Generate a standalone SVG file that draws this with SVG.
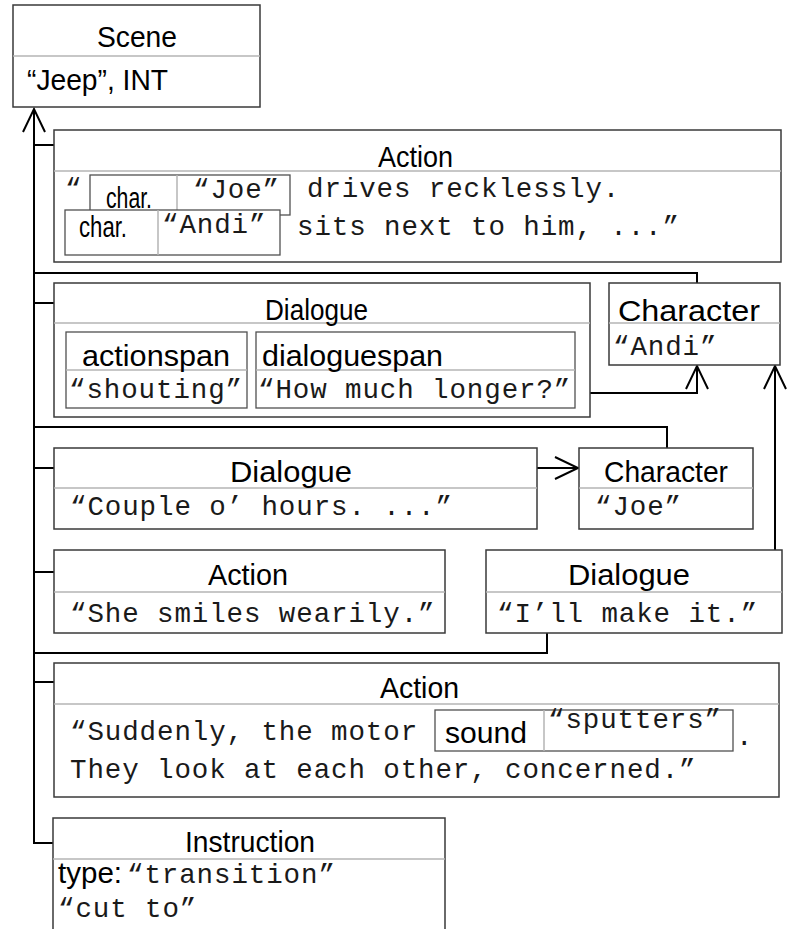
<svg xmlns="http://www.w3.org/2000/svg" width="790" height="929" viewBox="0 0 790 929">
<style>
.box{fill:#fff;stroke:#3a3a3a;stroke-width:1.5}
.dv{stroke:#b4b4b4;stroke-width:1.5;fill:none}
.ib{fill:#fff;stroke:#505050;stroke-width:1.3}
.t{font-family:"Liberation Sans",Arial,sans-serif;font-size:29px;fill:#000}
.m{font-family:"Liberation Mono","Courier New",monospace;font-size:27.5px;letter-spacing:0.9px;fill:#1a1a1a}
.c{fill:none;stroke:#000;stroke-width:2}
</style>
<defs>
<marker id="arr" markerUnits="userSpaceOnUse" markerWidth="30" markerHeight="30" refX="24" refY="12" orient="auto" viewBox="0 0 30 24">
<path d="M1,1 L24,12 L1,23" fill="none" stroke="#000" stroke-width="2"/>
</marker>
</defs>
<rect width="790" height="929" fill="#fff"/>

<g id="connectors">
<path class="c" d="M53,843 H34 V109" marker-end="url(#arr)"/>
<path class="c" d="M34,145 H54"/>
<path class="c" d="M34,273 H697 V283"/>
<path class="c" d="M34,303 H54"/>
<path class="c" d="M34,427 H667 V448"/>
<path class="c" d="M34,468 H54"/>
<path class="c" d="M34,572 H54"/>
<path class="c" d="M34,653 H547 V633"/>
<path class="c" d="M34,682 H54"/>
<path class="c" d="M590,393 H697 V366" marker-end="url(#arr)"/>
<path class="c" d="M775,550 V366" marker-end="url(#arr)"/>
<path class="c" d="M537,468 H578" marker-end="url(#arr)"/>
</g>

<g id="scene">
<rect class="box" x="13" y="5" width="247" height="102"/>
<line class="dv" x1="13" y1="56" x2="260" y2="56"/>
<text class="t" x="97" y="47" textLength="80" lengthAdjust="spacingAndGlyphs">Scene</text>
<text class="t" x="27" y="90" textLength="141" lengthAdjust="spacingAndGlyphs">“Jeep”, INT</text>
</g>

<g id="action1">
<rect class="box" x="54" y="130" width="727" height="132"/>
<line class="dv" x1="54" y1="171" x2="781" y2="171"/>
<text class="t" x="378" y="167" textLength="75" lengthAdjust="spacingAndGlyphs">Action</text>
<text class="m" x="65" y="197">“</text>
<text class="m" x="307" y="197">drives recklessly.</text>
<text class="m" x="297" y="235">sits next to him, ...”</text>
<g id="char-joe-span">
<rect class="ib" x="90" y="175" width="200" height="40"/>
<line class="dv" x1="177" y1="175" x2="177" y2="215"/>
<text class="t" x="106" y="208" textLength="46" lengthAdjust="spacingAndGlyphs">char.</text>
<text class="m" x="193" y="198">“Joe”</text>
</g>
<g id="char-andi-span">
<rect class="ib" x="65" y="210" width="215" height="45"/>
<line class="dv" x1="158" y1="210" x2="158" y2="255"/>
<text class="t" x="79" y="237" textLength="48" lengthAdjust="spacingAndGlyphs">char.</text>
<text class="m" x="162" y="233">“Andi”</text>
</g>
</g>

<g id="dialogue1">
<rect class="box" x="54" y="283" width="536" height="134"/>
<line class="dv" x1="54" y1="323" x2="590" y2="323"/>
<text class="t" x="265" y="320" textLength="103" lengthAdjust="spacingAndGlyphs">Dialogue</text>
<g id="actionspan">
<rect class="ib" x="66" y="332" width="181" height="76"/>
<line class="dv" x1="66" y1="370" x2="247" y2="370"/>
<text class="t" x="82" y="366" textLength="148" lengthAdjust="spacingAndGlyphs">actionspan</text>
<text class="m" x="69" y="398">“shouting”</text>
</g>
<g id="dialoguespan">
<rect class="ib" x="256" y="332" width="319" height="76"/>
<line class="dv" x1="256" y1="370" x2="575" y2="370"/>
<text class="t" x="262" y="366" textLength="181" lengthAdjust="spacingAndGlyphs">dialoguespan</text>
<text class="m" x="258" y="398">“How much longer?”</text>
</g>
</g>

<g id="character-andi">
<rect class="box" x="609" y="283" width="171" height="82"/>
<line class="dv" x1="609" y1="323" x2="780" y2="323"/>
<text class="t" x="618" y="321" textLength="142" lengthAdjust="spacingAndGlyphs">Character</text>
<text class="m" x="613" y="355">“Andi”</text>
</g>

<g id="dialogue2">
<rect class="box" x="54" y="448" width="483" height="81"/>
<line class="dv" x1="54" y1="488" x2="537" y2="488"/>
<text class="t" x="230" y="482" textLength="122" lengthAdjust="spacingAndGlyphs">Dialogue</text>
<text class="m" x="70" y="515">“Couple o’ hours. ...”</text>
</g>

<g id="character-joe">
<rect class="box" x="579" y="448" width="174" height="81"/>
<line class="dv" x1="579" y1="488" x2="753" y2="488"/>
<text class="t" x="604" y="482" textLength="124" lengthAdjust="spacingAndGlyphs">Character</text>
<text class="m" x="595" y="515">“Joe”</text>
</g>

<g id="action2">
<rect class="box" x="54" y="550" width="391" height="83"/>
<line class="dv" x1="54" y1="592" x2="445" y2="592"/>
<text class="t" x="208" y="585" textLength="80" lengthAdjust="spacingAndGlyphs">Action</text>
<text class="m" x="70" y="622">“She smiles wearily.”</text>
</g>

<g id="dialogue3">
<rect class="box" x="486" y="550" width="296" height="83"/>
<line class="dv" x1="486" y1="592" x2="782" y2="592"/>
<text class="t" x="568" y="585" textLength="122" lengthAdjust="spacingAndGlyphs">Dialogue</text>
<text class="m" x="497" y="622">“I’ll make it.”</text>
</g>

<g id="action3">
<rect class="box" x="54" y="663" width="725" height="134"/>
<line class="dv" x1="54" y1="704" x2="779" y2="704"/>
<text class="t" x="380" y="698" textLength="79" lengthAdjust="spacingAndGlyphs">Action</text>
<text class="m" x="70" y="740">“Suddenly, the motor</text>
<text class="m" x="70" y="778">They look at each other, concerned.”</text>
<text class="m" x="736" y="745">.</text>
<g id="sound-span">
<rect class="ib" x="435" y="710" width="298" height="41"/>
<line class="dv" x1="544" y1="710" x2="544" y2="751"/>
<text class="t" x="445" y="743" textLength="82" lengthAdjust="spacingAndGlyphs">sound</text>
<text class="m" x="548" y="728">“sputters”</text>
</g>
</g>

<g id="instruction">
<path class="box" d="M53,935 V818 H445 V935"/>
<line class="dv" x1="53" y1="859" x2="445" y2="859"/>
<text class="t" x="185" y="852" textLength="130" lengthAdjust="spacingAndGlyphs">Instruction</text>
<text class="t" x="58" y="883" textLength="64" lengthAdjust="spacingAndGlyphs">type:</text>
<text class="m" x="127" y="883">“transition”</text>
<text class="m" x="58" y="917">“cut to”</text>
</g>
</svg>
